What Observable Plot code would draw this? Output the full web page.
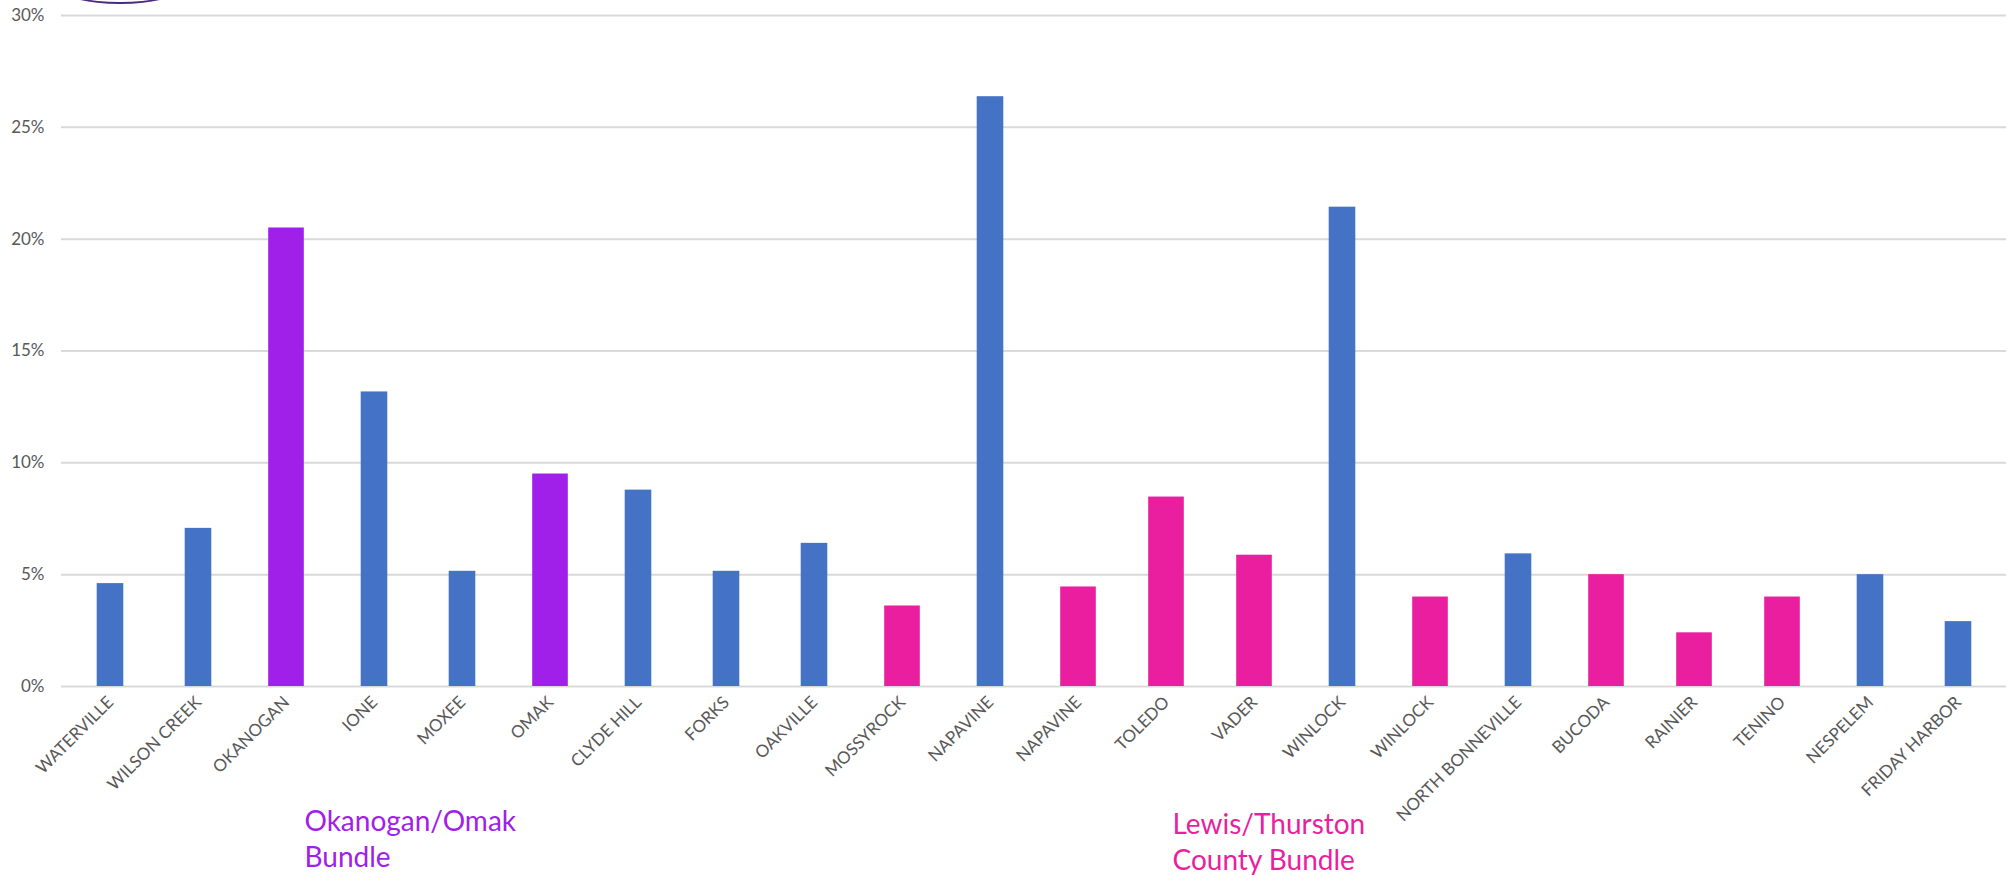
<!DOCTYPE html>
<html>
<head>
<meta charset="utf-8">
<script src="https://cdn.jsdelivr.net/npm/d3@7"></script>
<script src="https://cdn.jsdelivr.net/npm/@observablehq/plot@0.6"></script>
<style>
  html, body { margin: 0; padding: 0; background: #ffffff; overflow: hidden; }
  #wrap { position: relative; width: 2013px; height: 875px; }
  #logo { position: absolute; left: 60px; top: -28px; width: 120px; height: 32px;
          border: 2px solid #4b2a82; border-radius: 50%; box-sizing: border-box; }
  svg { font-family: Lato, "Open Sans", sans-serif; }
</style>
</head>
<body>
<div id="wrap"><div id="logo"></div></div>
<script>
// ---- data ----
const towns = ["WATERVILLE", "WILSON CREEK", "OKANOGAN", "IONE", "MOXEE", "OMAK",
  "CLYDE HILL", "FORKS", "OAKVILLE", "MOSSYROCK", "NAPAVINE", "NAPAVINE", "TOLEDO",
  "VADER", "WINLOCK", "WINLOCK", "NORTH BONNEVILLE", "BUCODA", "RAINIER", "TENINO",
  "NESPELEM", "FRIDAY HARBOR"];
const shares = [0.046, 0.0707, 0.205, 0.1317, 0.0515, 0.095, 0.0878, 0.0515, 0.064,
  0.036, 0.2637, 0.0445, 0.0847, 0.0587, 0.2143, 0.040, 0.0593, 0.050, 0.024, 0.040,
  0.050, 0.029];
const bundles = ["other", "other", "okanogan", "other", "other", "okanogan", "other", "other",
  "other", "lewis", "other", "lewis", "lewis", "lewis", "other", "lewis", "other", "lewis",
  "lewis", "lewis", "other", "other"];
const bundleNames = ["other", "okanogan", "lewis"];
const bundleColors = ["#4472C4", "#A020EA", "#EA1F9F"];
const yTicks = [0, 0.05, 0.10, 0.15, 0.20, 0.25, 0.30];
const annoText = ["Okanogan/Omak\nBundle", "Lewis/Thurston\nCounty Bundle"];
const annoBundle = ["okanogan", "lewis"];
const annoAt = [3, 12];

const rows = towns.map((t, i) => ({i, town: t, share: shares[i], bundle: bundles[i]}));
const annos = annoText.map((t, k) => ({i: annoAt[k], y: 0, text: t, bundle: annoBundle[k]}));
const annoOffsets = [[-70, 119], [6, 122]];

const chart = Plot.plot({
  width: 2013,
  height: 875,
  marginLeft: 61,
  marginRight: 7,
  marginTop: 15,
  marginBottom: 189,
  style: {fontFamily: "Lato, 'Open Sans', sans-serif", background: "#ffffff"},
  x: {type: "band", domain: d3.range(towns.length), padding: 0},
  y: {domain: [0, 0.30]},
  color: {domain: bundleNames, range: bundleColors},
  marks: [
    Plot.ruleY(yTicks, {stroke: "#d9d9d9", strokeWidth: 2}),
    Plot.barY(rows.filter(d => d.bundle === "other"),
      {x: "i", y: "share", fill: "bundle", insetLeft: 30.7, insetRight: 30.7}),
    Plot.barY(rows.filter(d => d.bundle !== "other"),
      {x: "i", y: "share", fill: "bundle", insetLeft: 26.2, insetRight: 26.2}),
    Plot.axisY({ticks: yTicks, tickFormat: d3.format(".0%"), tickSize: 0, tickPadding: 17,
      fontSize: 17, color: "#595959", label: null}),
    Plot.axisX({tickFormat: i => towns[i], tickRotate: -45, tickSize: 0, tickPadding: 13,
      fontSize: 17, color: "#595959", label: null, dx: 0}),
    ...annos.map((a, k) => Plot.text([a], {x: "i", y: "y", text: "text", fill: "bundle",
      textAnchor: "start", lineAnchor: "top", fontSize: 28, lineHeight: 1.29,
      dx: annoOffsets[k][0], dy: annoOffsets[k][1]}))
  ]
});
document.getElementById("wrap").prepend(chart);
</script>
</body>
</html>
